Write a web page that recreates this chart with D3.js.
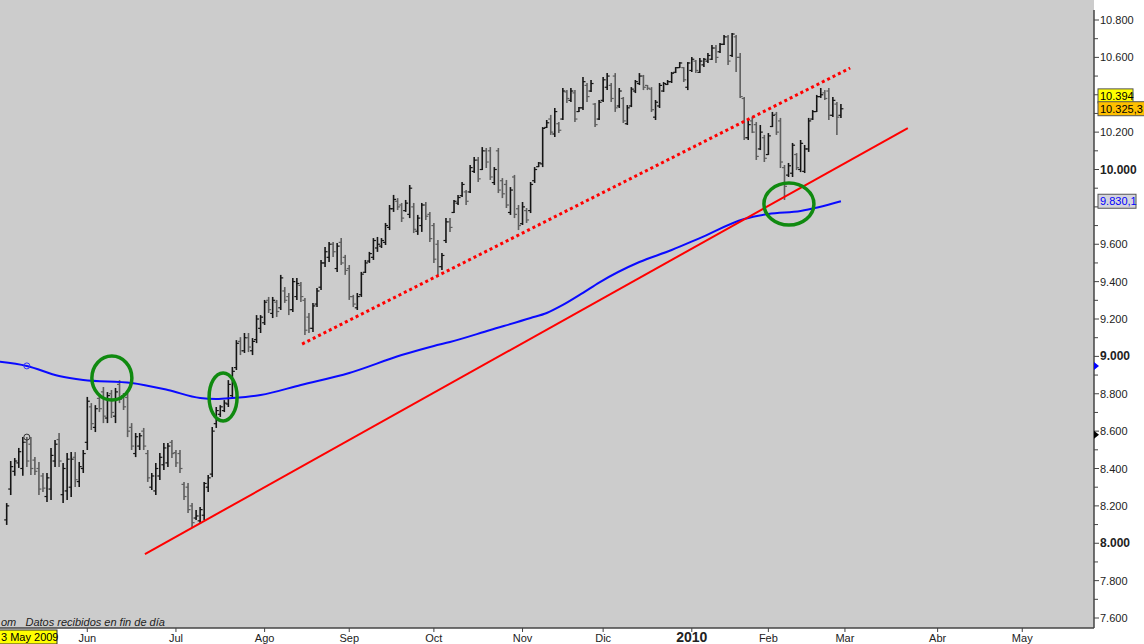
<!DOCTYPE html>
<html><head><meta charset="utf-8">
<script src="https://cdn.jsdelivr.net/npm/d3@7"></script>
<style>body{margin:0;background:#fff}svg{display:block;font-family:"Liberation Sans",Arial,sans-serif}</style>
</head><body><svg id="c" width="1144" height="644"></svg>
<script>
// ---- data (DJIA daily bars, trading-day index 0 = first bar) ----
const highs = [8215,8440,8456,8510,8568,8568,8568,8461,8435,8376, 8376,8510,8552,8590,8430,8483,8488,8488,8435,8499, 8783,8750,8739,8793,8836,8809,8820,8831,8873,8804, 8804,8643,8590,8590,8617,8499,8376,8430,8483,8536, 8536,8552,8499,8499,8328,8322,8215,8178,8194,8328, 8365,8622,8729,8739,8766,8873,8943,9087,
9103,9125,9125,9098,9221,9221,9302,9318,9318,9302, 9436,9371,9339,9419,9419,9398,9312,9232,9286,9366, 9516,9585,9612,9612,9607,9633,9543,9489,9329,9339, 9452,9516,9559,9633,9639,9633,9714,9810,9864,9847, 9821,9837,9917,9821,9757,9821,9826,9773,9714,9623, 9553,9740,
9740,9837,9864,9933,9890,10024,10067,10067,10120,10115, 10120,10013,10115,9954,9944,9906,9971,9810,9826,9794, 9933,10013,10040,10227,10265,10292,10329,10254,10436,10425, 10436,10425,10334,10495,10463,10479,10356,10372,10495,10516, 10463,10516,10436,10388,10345,10441,10479,10516,10506,10452, 10441,10372,10463,10468,10479,10522,10548,10575,10548,10575, 10602,10586,
10596,10596,10623,10666,10666,10677,10720,10720,10730,10720, 10623,10388,10265,10281,10254,10238,10185,10195,10308,10308, 10276,10024,10035,10142,10088,10158,10131,10276,10318,10399, 10436,10425,10436,10388,10361,10350];
const lows = [8098,8258,8361,8403,8361,8408,8365,8365,8258,8274, 8221,8231,8408,8408,8215,8231,8247,8301,8301,8376, 8499,8606,8595,8702,8643,8643,8670,8643,8750,8713, 8568,8499,8461,8499,8499,8328,8285,8258,8338,8392, 8408,8456,8408,8376,8231,8162,8087,8124,8108,8124, 8274,8354,8617,8676,8702,8729,8777,8927,
9007,9018,9023,9007,9071,9125,9168,9232,9205,9211, 9248,9286,9221,9237,9302,9291,9114,9125,9130,9264, 9355,9478,9505,9532,9452,9489,9436,9302,9264,9248, 9318,9446,9500,9516,9559,9580,9596,9676,9773,9783, 9719,9773,9740,9660,9650,9666,9730,9612,9500,9436, 9462,9607,
9666,9767,9810,9853,9810,9874,9981,9933,9997,10008, 9944,9917,9874,9847,9794,9757,9740,9676,9703,9714, 9767,9928,10013,10013,10222,10185,10174,10195,10265,10356, 10361,10254,10308,10318,10361,10415,10227,10265,10361,10425, 10361,10308,10329,10249,10238,10334,10409,10452,10425,10425, 10308,10265,10329,10415,10452,10463,10516,10543,10468,10425, 10522,10516,
10516,10548,10570,10586,10570,10623,10666,10559,10602,10522, 10383,10158,10158,10195,10051,10104,10040,10078,10227,10185, 10008,9837,9960,9960,9997,9986,9981,10094,10265,10308, 10383,10372,10265,10281,10185,10276];
const opens = [8125,8290,8385,8430,8400,8540,8530,8445,8400,8360, 8250,8290,8440,8555,8260,8280,8300,8460,8330,8400, 8540,8730,8620,8775,8810,8670,8800,8680,8850,8790, 8780,8620,8480,8520,8600,8480,8300,8280,8360,8420, 8430,8540,8485,8480,8315,8300,8200,8135,8120,8150, 8300,8370,8640,8690,8710,8745,8790,8940,
9080,9030,9100,9030,9090,9150,9180,9300,9230,9290, 9260,9350,9320,9250,9320,9380,9300,9210,9150,9280, 9370,9500,9530,9600,9470,9610,9530,9470,9320,9260, 9330,9450,9510,9530,9580,9590,9610,9690,9790,9830, 9810,9780,9760,9800,9670,9700,9810,9760,9700,9600, 9480,9620,
9720,9770,9820,9860,9880,9880,9990,10050,10000,10100, 10100,9930,10100,9940,9920,9770,9960,9790,9710,9780, 9780,9940,10015,10030,10225,10270,10190,10245,10270,10415, 10370,10410,10310,10330,10450,10420,10350,10270,10370,10440, 10450,10500,10340,10380,10245,10340,10420,10460,10500,10450, 10430,10280,10340,10420,10455,10470,10520,10545,10545,10440, 10530,10580,
10520,10560,10580,10590,10650,10630,10670,10710,10610,10710, 10600,10380,10170,10260,10240,10110,10170,10080,10230,10295, 10260,10010,9970,9980,10080,10000,9990,10110,10270,10310, 10390,10410,10420,10290,10350,10290];
const closes = [8200,8410,8440,8490,8540,8440,8400,8385,8290,8295, 8350,8470,8530,8440,8400,8450,8450,8340,8410,8480, 8760,8640,8720,8720,8680,8790,8700,8810,8770,8730, 8600,8520,8570,8575,8520,8350,8360,8400,8460,8510, 8520,8480,8430,8400,8250,8180,8110,8146,8180,8320, 8350,8600,8710,8730,8750,8850,8920,9070,
9030,9100,9050,9080,9200,9210,9290,9250,9300,9240, 9420,9300,9250,9400,9390,9320,9140,9150,9270,9350, 9500,9560,9600,9560,9590,9500,9460,9320,9280,9320, 9440,9500,9550,9620,9600,9620,9700,9790,9840,9800, 9740,9820,9900,9680,9740,9810,9750,9630,9520,9480, 9540,9720,
9690,9830,9850,9920,9830,10010,10050,9950,10100,10040, 9960,10000,9890,9870,9810,9890,9760,9700,9800,9730, 9920,10000,10035,10220,10250,10200,10310,10210,10420,10380, 10420,10270,10330,10470,10390,10460,10240,10360,10480,10500, 10380,10330,10420,10260,10330,10430,10470,10500,10440,10435, 10320,10360,10450,10460,10470,10515,10545,10570,10480,10570, 10590,10530,
10580,10590,10610,10650,10600,10670,10710,10580,10725,10600, 10390,10170,10240,10200,10070,10200,10060,10180,10290,10200, 10040,9910,10020,10130,10010,10140,10110,10260,10310,10390, 10400,10380,10290,10370,10280,10325];

// 200-day moving average (sampled at bar indices)
const maIdx = [-2,5,13,19,31,40,48,52,56,63,73,85,98,106,110,120,130,134,138,143,147,157,165,172,183,189,197,207];
const maVal = [8972,8949,8895,8874,8858,8820,8777,8772,8777,8793,8847,8911,9007,9056,9077,9141,9205,9232,9275,9340,9395,9505,9569,9633,9735,9762,9778,9830];

// month ticks (trading-day index)
const monthIdx = [20,42,64,85,106,128,148,170,189,208,231,252];
const monthLbl = ["Jun","Jul","Ago","Sep","Oct","Nov","Dic","2010","Feb","Mar","Abr","May"];

// trend lines [idx, price]
const trendSolid = [[34.3,7942],[223.6,10222]];
const trendDotted = [[73.3,9066],[209.3,10543]];
// green ellipses: centre idx, centre price, rx px, ry px
const ellIdx = [26.1,53.7,194.1];
const ellVal = [8884,8783,9815];
const ellRx = [20,14,25];
const ellRy = [22,24,21];

// value labels on right axis
const lastHigh = 10394, lastClose = 10325.3, lastMA = 9830.1;
const markerBlue = 8949, markerBlack = 8580;

// ---- drawing ----
const svg = d3.select("#c");
const PR = 1094, PB = 628;
const x = d3.scaleLinear().domain([-1.66, 269.8]).range([0, PR]);
const y = d3.scaleLinear().domain([7600, 10800]).range([618, 20]);
const loc = d3.formatLocale({decimal:",", thousands:".", grouping:[3], currency:["",""]});
const f0 = loc.format(",.0f"), f1 = loc.format(",.1f");

svg.append("rect").attr("width",1144).attr("height",644).attr("fill","#fff");
svg.append("rect").attr("x",0).attr("y",0).attr("width",PR).attr("height",PB).attr("fill","#cccccc");
svg.append("defs").append("clipPath").attr("id","clip").append("rect").attr("x",0).attr("y",0).attr("width",PR).attr("height",PB);
const g = svg.append("g").attr("clip-path","url(#clip)");

// bars
const idx = d3.range(highs.length);
const bars = g.append("g");
idx.forEach(i => {
  const up = closes[i] >= opens[i];
  const col = up ? "#151515" : "#5e5e5e";
  const cx = x(i);
  bars.append("line").attr("x1",cx).attr("x2",cx).attr("y1",y(highs[i])).attr("y2",y(lows[i])).attr("stroke",col).attr("stroke-width",1.6);
  bars.append("line").attr("x1",cx-2.5).attr("x2",cx).attr("y1",y(opens[i])).attr("y2",y(opens[i])).attr("stroke",col).attr("stroke-width",1.2);
  bars.append("line").attr("x1",cx).attr("x2",cx+2.5).attr("y1",y(closes[i])).attr("y2",y(closes[i])).attr("stroke",col).attr("stroke-width",1.2);
});

// moving average
const line = d3.line().x(d=>x(d[0])).y(d=>y(d[1])).curve(d3.curveMonotoneX);
g.append("path").datum(maIdx.map((d,i)=>[d,maVal[i]])).attr("d",line).attr("fill","none").attr("stroke","#0a0aff").attr("stroke-width",2);

// cursor circles
g.append("circle").attr("cx",x(5)).attr("cy",y(8949)).attr("r",3).attr("fill","none").attr("stroke","#3030ff").attr("stroke-width",1);
g.append("circle").attr("cx",x(5)).attr("cy",y(highs[5])).attr("r",3).attr("fill","none").attr("stroke","#333").attr("stroke-width",1);

// trend lines
const lin = d3.line().x(d=>x(d[0])).y(d=>y(d[1]));
g.append("path").datum(trendSolid).attr("d",lin).attr("stroke","#ff0000").attr("stroke-width",2).attr("fill","none");
g.append("path").datum(trendDotted).attr("d",lin).attr("stroke","#ff0000").attr("stroke-width",3).attr("stroke-dasharray","3,3").attr("fill","none");

// green ellipses
ellIdx.forEach((d,i)=>{
  g.append("ellipse").attr("cx",x(d)).attr("cy",y(ellVal[i])).attr("rx",ellRx[i]).attr("ry",ellRy[i])
   .attr("fill","none").attr("stroke","#108a10").attr("stroke-width",3.5);
});

// footer text in plot
svg.append("text").attr("x",1).attr("y",626).attr("font-size",11).attr("font-style","italic").attr("fill","#222")
  .style("white-space","pre").text("om   Datos recibidos en fin de día");

// right axis
svg.append("line").attr("x1",PR).attr("x2",PR).attr("y1",10).attr("y2",PB).attr("stroke","#444").attr("stroke-width",1.5);
const minor = d3.range(7600, 10801, 100);
minor.forEach(v=>{
  const major = v % 200 === 0;
  svg.append("line").attr("x1",PR).attr("x2",PR+(major?5:4)).attr("y1",y(v)).attr("y2",y(v)).attr("stroke","#444");
  // the 9.800 label sits under the moving-average value box, as in the original
  if (major && Math.abs(y(v) - y(lastMA)) > 10) {
    const bold = v % 1000 === 0;
    svg.append("text").attr("x",PR+6).attr("y",y(v)+4).attr("font-size",bold?12:11).attr("font-weight",bold?"bold":"normal")
      .attr("fill","#222").text(f0(v));
  }
});

// bottom axis
svg.append("line").attr("x1",0).attr("x2",PR).attr("y1",PB).attr("y2",PB).attr("stroke","#444").attr("stroke-width",1.5);
monthIdx.forEach((m,i)=>{
  const mx = x(m);
  svg.append("line").attr("x1",mx).attr("x2",mx).attr("y1",PB).attr("y2",PB+4).attr("stroke","#444");
  const b = monthLbl[i]==="2010";
  svg.append("text").attr("x",mx).attr("y",642).attr("text-anchor","middle").attr("font-size",b?14:11)
    .attr("font-weight",b?"bold":"normal").attr("fill","#222").text(monthLbl[i]);
});
// date box
svg.append("rect").attr("x",-1).attr("y",630).attr("width",58).attr("height",14).attr("fill","#ffff00").attr("stroke","#333");
svg.append("text").attr("x",1).attr("y",641).attr("font-size",11).attr("fill","#000").text("3 May 2009");

// value boxes
function vbox(v, txt, fill, tc, w){
  const yy = y(v);
  svg.append("rect").attr("x",PR+4).attr("y",yy-7).attr("width",w).attr("height",14).attr("fill",fill).attr("stroke","#555");
  svg.append("text").attr("x",PR+6).attr("y",yy+4).attr("font-size",11).attr("fill",tc).text(txt);
}
vbox(lastHigh, f0(lastHigh), "#ffff00", "#000", 35);
vbox(lastClose, f1(lastClose), "#ffc000", "#000", 48);
vbox(lastMA, f1(lastMA), "#d4d4dc", "#0000ff", 38);

// triangles
function tri(v, col){
  const yy = y(v);
  svg.append("path").attr("d",`M${PR},${yy-4}L${PR+5},${yy}L${PR},${yy+4}Z`).attr("fill",col);
}
tri(markerBlue, "#0000ff");
tri(markerBlack, "#000");
</script></body></html>
